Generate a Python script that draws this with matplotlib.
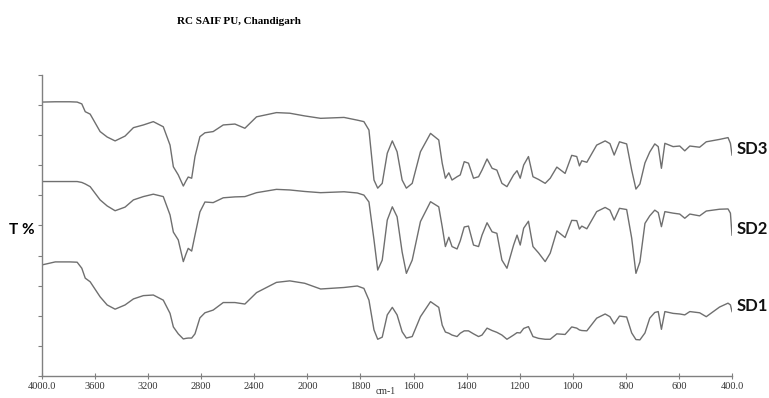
import numpy as np
import matplotlib
matplotlib.use("Agg")
import matplotlib.pyplot as plt

# wavenumbers (cm-1) shared by the three spectra
wavenumber = [4000, 3900, 3790, 3735, 3700, 3674, 3637, 3562, 3509, 3449,
              3374, 3311, 3236, 3161, 3086, 3035, 3010, 2973, 2935, 2915,
              2898, 2872, 2847, 2810, 2772, 2710, 2634, 2546, 2471, 2383,
              2233, 2133, 2020, 1950, 1862, 1812, 1787, 1768, 1749, 1735,
              1718, 1699, 1680, 1662, 1643, 1627, 1605, 1574, 1536, 1505,
              1492, 1480, 1467, 1455, 1436, 1424, 1409, 1393, 1374, 1355,
              1342, 1323, 1304, 1286, 1267, 1248, 1223, 1210, 1198, 1185,
              1167, 1150, 1129, 1104, 1085, 1060, 1029, 1004, 985, 975,
              966, 947, 910, 878, 860, 844, 824, 797, 778, 762,
              747, 728, 710, 691, 678, 666, 653, 622, 597, 578,
              559, 522, 497, 447, 415, 406, 400]

# transmittance, stacked (arbitrary T % axis)
sd3 = [91.0, 91.1, 91.1, 91.0, 90.4, 87.8, 87.0, 81.2, 79.4, 78.1,
       79.7, 82.5, 83.4, 84.5, 82.8, 76.7, 69.5, 66.8, 63.1, 64.8,
       66.1, 65.7, 72.9, 79.5, 80.8, 81.2, 83.4, 83.7, 82.3, 86.1,
       87.5, 87.3, 86.4, 85.6, 85.9, 85.0, 84.5, 81.7, 65.1, 62.4,
       64.0, 74.0, 78.1, 74.5, 65.1, 62.4, 64.0, 74.5, 80.6, 78.4,
       70.7, 65.7, 67.5, 65.1, 66.2, 66.8, 71.2, 70.7, 65.7, 66.2,
       68.4, 72.1, 69.0, 68.4, 64.0, 62.9, 66.8, 68.2, 65.7, 70.1,
       72.9, 66.2, 65.3, 64.0, 65.7, 69.4, 67.3, 73.3, 72.9, 69.8,
       71.5, 71.0, 76.7, 78.1, 77.2, 73.4, 77.8, 77.1, 68.4, 62.1,
       63.8, 70.8, 74.4, 77.1, 76.2, 69.0, 77.3, 76.2, 76.4, 74.8,
       76.4, 76.0, 77.8, 78.6, 79.2, 77.3, 73.4]

sd2 = [64.6, 64.6, 64.6, 64.6, 64.3, 63.8, 62.9, 58.5, 56.5, 54.9,
       56.1, 58.5, 59.6, 60.4, 59.6, 53.5, 47.8, 45.2, 38.0, 40.5,
       42.4, 41.5, 46.8, 54.5, 57.8, 57.6, 59.2, 59.5, 59.6, 60.9,
       62.0, 61.8, 61.3, 60.9, 61.2, 60.8, 60.1, 57.8, 45.2, 35.2,
       38.5, 51.8, 56.2, 52.9, 41.2, 34.1, 38.5, 51.3, 57.9, 56.2,
       49.6, 43.0, 46.1, 43.0, 42.2, 44.9, 49.5, 49.8, 43.5, 43.0,
       46.8, 50.9, 47.9, 47.4, 38.5, 35.8, 43.5, 46.8, 43.5, 49.1,
       51.4, 43.0, 40.9, 38.0, 40.8, 48.2, 46.0, 51.7, 51.6, 48.8,
       49.8, 48.9, 54.6, 56.0, 55.1, 51.8, 55.7, 55.3, 45.8, 34.1,
       37.9, 50.7, 53.2, 55.1, 54.3, 49.6, 54.6, 54.1, 53.8, 52.4,
       53.8, 53.2, 54.8, 55.4, 55.5, 54.1, 46.8]

sd1 = [36.9, 37.9, 37.9, 37.8, 35.8, 32.5, 31.3, 26.3, 23.6, 22.2,
       23.6, 25.6, 26.7, 26.9, 25.2, 20.8, 16.3, 14.0, 12.3, 12.5,
       12.6, 12.6, 14.0, 19.3, 21.0, 21.9, 24.4, 24.4, 23.9, 27.7,
       31.1, 31.6, 30.8, 28.9, 29.4, 29.9, 29.1, 25.2, 15.3, 12.2,
       12.9, 20.3, 22.8, 20.3, 14.7, 12.6, 13.1, 19.7, 24.7, 22.8,
       16.9, 14.6, 14.2, 13.6, 13.1, 14.2, 15.0, 15.0, 14.0, 13.1,
       13.6, 15.9, 15.1, 14.5, 13.6, 12.2, 13.6, 14.4, 14.3, 15.8,
       16.4, 13.1, 12.5, 12.2, 12.2, 14.0, 13.8, 16.3, 15.9, 15.3,
       15.1, 15.0, 19.2, 20.6, 19.7, 17.3, 19.9, 19.6, 14.3, 12.1,
       12.0, 14.3, 19.2, 21.1, 21.4, 15.5, 21.4, 20.8, 20.6, 20.3,
       21.4, 21.0, 19.7, 22.9, 24.2, 23.6, 21.4]

series = {"SD3": sd3, "SD2": sd2, "SD1": sd1}
xticks = [4000, 3600, 3200, 2800, 2400, 2000, 1800, 1600, 1400, 1200, 1000, 800, 600, 400]
xticklabels = ["4000.0", "3600", "3200", "2800", "2400", "2000", "1800",
               "1600", "1400", "1200", "1000", "800", "600", "400.0"]


# FTIR-style axis: half scale above 2000 cm-1
def fwd(w):
    w = np.asarray(w, dtype=float)
    return np.where(w > 2000, 2000 + (w - 2000) / 2.0, w)


def inv(u):
    u = np.asarray(u, dtype=float)
    return np.where(u > 2000, 2000 + (u - 2000) * 2.0, u)


fig = plt.figure(figsize=(7.69, 3.98), dpi=100)
ax = fig.add_axes([0.0546, 0.0553, 0.8973, 0.7563])
ax.set_xscale("function", functions=(fwd, inv))

for name, vals in series.items():
    ax.plot(wavenumber, vals, color="#6f6f6f", lw=1.0)
    ax.text(1.006, (vals[-1] + 2) / 100.0, name, transform=ax.transAxes,
            ha="left", va="center", fontsize=12, fontweight="bold",
            family="Lato", color="#111111")

ax.set_xlim(4000, 400)
ax.set_ylim(0, 100)
ax.set_xticks(xticks)
ax.set_xticklabels(xticklabels, family="Liberation Serif", fontsize=7.5, color="#333333")
ax.set_yticks(np.arange(0, 101, 10))
ax.set_yticklabels([])
ax.minorticks_off()

for s in ["top", "right"]:
    ax.spines[s].set_visible(False)
for s in ["left", "bottom"]:
    ax.spines[s].set_color("#808080")
    ax.spines[s].set_linewidth(1.0)
ax.tick_params(axis="x", direction="inout", length=4, color="#808080", pad=2)
ax.tick_params(axis="y", direction="out", length=3, color="#808080")

fig.text(239 / 769, 1 - 21 / 398, "RC SAIF PU, Chandigarh", ha="center", va="center",
         family="Liberation Serif", fontweight="bold", fontsize=8)
fig.text(22 / 769, 1 - 230 / 398, "T %", ha="center", va="center",
         family="Lato", fontweight="bold", fontsize=11)
fig.text(386 / 769, 1 - 392 / 398, "cm-1", ha="center", va="center",
         family="Liberation Serif", fontsize=7, color="#333333")

fig.savefig("out.png", dpi=100)
